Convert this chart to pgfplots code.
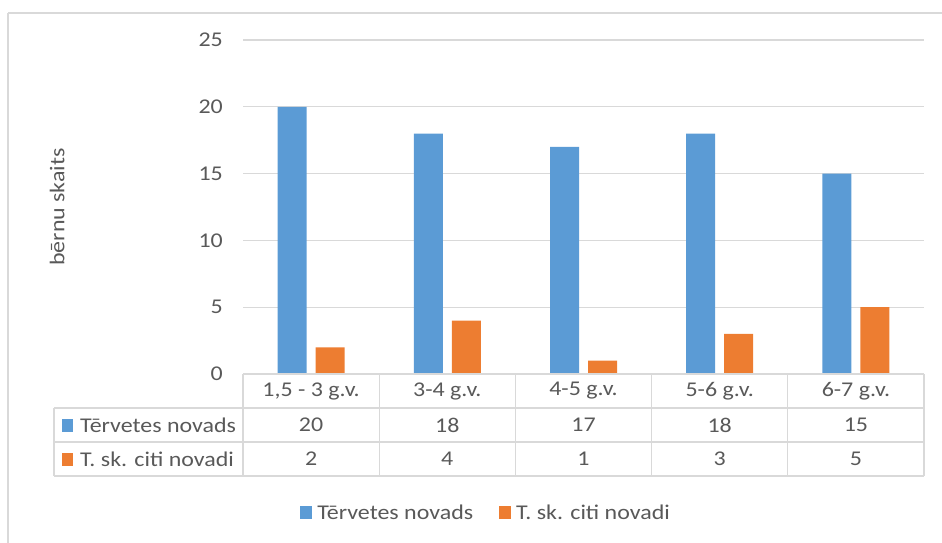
\documentclass[border=0pt]{standalone}
\usepackage{pgfplots}
\pgfplotsset{compat=1.18}
\usepackage{pgfplotstable}
\usepackage{fontspec}
\setmainfont{Carlito}[FakeStretch=1.14]

\definecolor{barblue}{HTML}{5B9BD5}
\definecolor{barorange}{HTML}{ED7D31}
\definecolor{txtgray}{HTML}{595959}
\definecolor{linegray}{HTML}{D9D9D9}

\newcommand\cf{\fontsize{21pt}{25pt}\selectfont}

\pgfplotsset{sq legend/.style={legend image code/.code={\fill[##1] (0pt,-6.5pt) rectangle (12pt,6.5pt);}}}

% x, Tervetes novads, T. sk. citi novadi
\pgfplotstableread{
x a b
0 20 2
1 18 4
2 17 1
3 18 3
4 15 5
}\data

\begin{document}
\begin{tikzpicture}[x=1pt,y=1pt]
% outer chart border (cut at right and bottom)
\draw[linegray, line width=2pt] (8,529) -- (960,529);
\draw[linegray, line width=2pt] (8,529) -- (8,-20);

\begin{axis}[
    at={(243pt,168pt)}, anchor=south west,
    scale only axis,
    width=681pt, height=334pt,
    xmin=-0.5, xmax=4.5,
    ymin=0, ymax=25,
    clip=false,
    axis line style={draw=none},
    major tick length=0pt,
    xtick={0,1,2,3,4},
    xticklabels={{1,5 - 3 g.v.},{3-4 g.v.},{4-5 g.v.},{5-6 g.v.},{6-7 g.v.}},
    ytick={0,5,...,25},
    ymajorgrids,
    grid style={linegray, line width=1.3pt},
    /pgf/number format/assume math mode=true,
    xticklabel style={font=\cf, text=txtgray, anchor=center, inner sep=0pt, yshift=-17pt},
    yticklabel style={font=\cf, text=txtgray, anchor=east, inner sep=0pt, xshift=-20pt},
    ylabel={bērnu skaits},
    ylabel style={font=\cf, text=txtgray, at={(axis description cs:-0.273,0.5)}, anchor=center, rotate=0},
    legend columns=2,
    legend style={at={(axis description cs:0.357,-0.416)}, anchor=center, draw=none,
        font=\cf, text=txtgray,
        /tikz/every odd column/.append style={column sep=3pt},
        /tikz/every even column/.append style={column sep=24pt}},
  ]
  \addplot[ybar, bar width=29pt, bar shift=-19pt, fill=barblue, draw=none, sq legend]
    table[x=x, y=a] \data;
  \addplot[ybar, bar width=29pt, bar shift=19pt, fill=barorange, draw=none, sq legend]
    table[x=x, y=b] \data;
  \legend{Tērvetes novads, T. sk. citi novadi}

  % data table values
  \addplot[only marks, mark=none, forget plot, nodes near coords, point meta=explicit,
    every node near coord/.append style={font=\cf, text=txtgray, anchor=center, inner sep=0pt}]
    table[x=x, y expr=-3.817, meta=a] \data;
  \addplot[only marks, mark=none, forget plot, nodes near coords, point meta=explicit,
    every node near coord/.append style={font=\cf, text=txtgray, anchor=center, inner sep=0pt}]
    table[x=x, y expr=-6.362, meta=b] \data;
\end{axis}

% data table grid
\begin{scope}[linegray, line width=1.3pt]
  \draw (243,168) -- (924,168);
  \draw (54,134) -- (924,134);
  \draw (54,100) -- (924,100);
  \draw (54,66) -- (924,66);
  \draw (54,134) -- (54,66);
  \foreach \xx in {243,379.2,515.4,651.6,787.8,924}
    \draw (\xx,168) -- (\xx,66);
\end{scope}
\fill[barblue] (62,110.5) rectangle (73,123.5);
\node[font=\cf, text=txtgray, anchor=west, inner sep=0pt] at (80,117) {Tērvetes novads};
\fill[barorange] (62,76.5) rectangle (73,89.5);
\node[font=\cf, text=txtgray, anchor=west, inner sep=0pt] at (80,83) {T. sk. citi novadi};

\pgfresetboundingbox
\useasboundingbox (0,0) rectangle (942,542);
\end{tikzpicture}
\end{document}
